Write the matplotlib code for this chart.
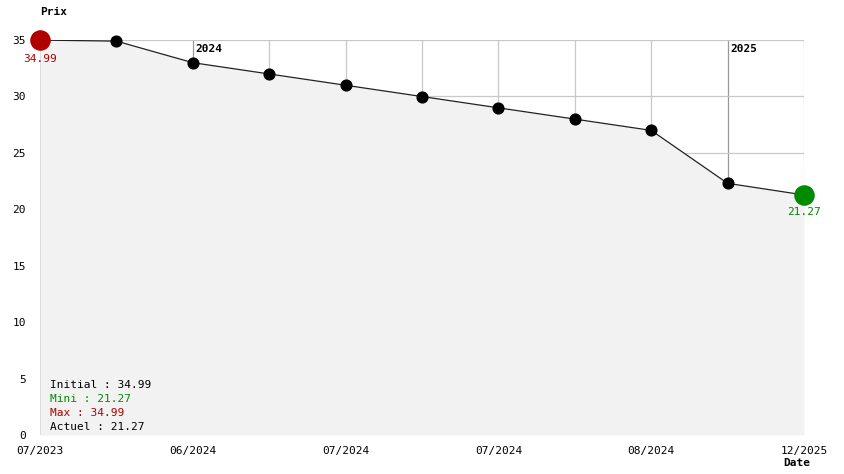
import numpy as np
import matplotlib.pyplot as plt

# price history (one point per observation, evenly spaced)
prices = [34.99, 34.9, 32.99, 31.99, 30.99, 29.99, 28.99, 27.99, 26.99, 22.3, 21.27]
tick_idx = [0, 2, 4, 6, 8, 10]
tick_labels = ["07/2023", "06/2024", "07/2024", "07/2024", "08/2024", "12/2025"]
year_idx = [2, 9]
year_labels = ["2024", "2025"]
y_ticks = [0, 5, 10, 15, 20, 25, 30, 35]

RED = "#b00000"
GREEN = "#008a00"
MONO = "DejaVu Sans Mono"
FS = 8

x = np.arange(len(prices))
fig = plt.figure(figsize=(8.44, 4.74), dpi=100)
ax = fig.add_axes([40 / 844, 39 / 474, 764 / 844, 395 / 474])

ax.set_xlim(0, len(prices) - 1)
ax.set_ylim(0, 35)

# grid
for xi in x:
    col = "#999999" if xi in year_idx else "#c8c8c8"
    ax.axvline(xi, color=col, lw=0.9, zorder=1)
for yv in y_ticks[1:]:
    ax.axhline(yv, color="#c8c8c8", lw=0.9, zorder=1)

ax.fill_between(x, prices, 0, color="#f2f2f2", zorder=2, lw=0)
ax.plot(x, prices, color="#222222", lw=0.9, zorder=3)
ax.scatter(x[1:-1], prices[1:-1], s=60, color="black", zorder=4, clip_on=False)
ax.scatter([x[0]], [prices[0]], s=190, color=RED, zorder=5, clip_on=False)
ax.scatter([x[-1]], [prices[-1]], s=190, color=GREEN, zorder=5, clip_on=False)

ax.annotate(f"{prices[0]:.2f}", (x[0], prices[0]), xytext=(0, -10), textcoords="offset points",
            ha="center", va="top", color=RED, fontsize=FS, family=MONO)
ax.annotate(f"{prices[-1]:.2f}", (x[-1], prices[-1]), xytext=(0, -9), textcoords="offset points",
            ha="center", va="top", color=GREEN, fontsize=FS, family=MONO)

for xi, lab in zip(year_idx, year_labels):
    ax.annotate(lab, (xi, 35), xytext=(2, -3), textcoords="offset points",
                ha="left", va="top", fontsize=FS, family=MONO, weight="bold")

for sp in ax.spines.values():
    sp.set_visible(False)
ax.set_xticks(tick_idx)
ax.set_xticklabels(tick_labels, family=MONO, fontsize=FS)
ax.set_yticks(y_ticks)
ax.set_yticklabels([str(v) for v in y_ticks], family=MONO, fontsize=FS)
ax.tick_params(length=0, pad=8)
ax.tick_params(axis="y", pad=10)

fig.text(40 / 844, 1 - 12 / 474, "Prix", family=MONO, fontsize=FS, weight="bold",
         ha="left", va="center")
fig.text(797 / 844, 1 - 463 / 474, "Date", family=MONO, fontsize=FS, weight="bold",
         ha="center", va="center")

summary = [
    (f"Initial : {prices[0]:.2f}", "black"),
    (f"Mini : {min(prices):.2f}", GREEN),
    (f"Max : {max(prices):.2f}", RED),
    (f"Actuel : {prices[-1]:.2f}", "black"),
]
for i, (txt, col) in enumerate(summary):
    fig.text(50 / 844, 1 - (385 + 14 * i) / 474, txt, color=col, family=MONO,
             fontsize=FS, ha="left", va="center")

fig.savefig("out.png", dpi=100)
